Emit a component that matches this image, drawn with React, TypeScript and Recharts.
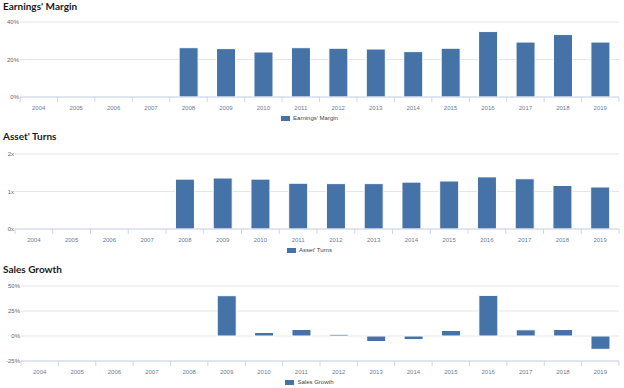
import { BarChart, Bar, XAxis, YAxis, CartesianGrid, Legend } from 'recharts';

const years = [
  '2004', '2005', '2006', '2007', '2008', '2009', '2010', '2011',
  '2012', '2013', '2014', '2015', '2016', '2017', '2018', '2019',
];
const earningsMargin = [null, null, null, null, 26.3, 25.8, 24.0, 26.3, 26.0, 25.6, 24.2, 26.0, 34.9, 29.3, 33.3, 29.3];
const assetTurns = [null, null, null, null, 1.33, 1.36, 1.33, 1.22, 1.21, 1.21, 1.25, 1.28, 1.39, 1.34, 1.16, 1.12];
const salesGrowth = [null, null, null, null, null, 40.3, 3.5, 6.5, 1.7, -5.5, -3.6, 5.5, 40.6, 6.2, 6.5, -13.3];

const marginTicks = [0, 20, 40];
const turnsTicks = [0, 1, 2];
const growthTicks = [-25, 0, 25, 50];

const W = 624;
const RIGHT = 5;
const BAR = '#4572a7';
const SMALL_FONT = '"Liberation Sans", Arial, sans-serif';

function YearTick({ x, y, payload, index, band, count }: any) {
  const left = x - band / 2;
  return (
    <g>
      <line x1={left} x2={left} y1={y} y2={y + 5} stroke="#ccd6eb" />
      {index === count - 1 && <line x1={x + band / 2} x2={x + band / 2} y1={y} y2={y + 5} stroke="#ccd6eb" />}
      <text x={x} y={y + 10.5} textAnchor="middle" dominantBaseline="central" fontSize={6} fill="#6b7d99" fontFamily={SMALL_FONT}>
        {payload.value}
      </text>
    </g>
  );
}

interface PanelProps {
  title: string;
  titleTop: number;
  top: number;
  yWidth: number;
  values: (number | null)[];
  name: string;
  domain: [number, number];
  ticks: number[];
  unit: string;
}

function Panel({ title, titleTop, top, yWidth, values, name, domain, ticks, unit }: PanelProps) {
  const data = years.map((year, i) => ({ year, value: values[i] }));
  const band = (W - yWidth - RIGHT) / years.length;
  return (
    <>
      <div
        style={{
          position: 'absolute',
          left: 3,
          top: titleTop,
          font: 'bold 10px Lato, "Open Sans", sans-serif',
          lineHeight: '12px',
          color: '#1a1a1a',
          whiteSpace: 'nowrap',
        }}
      >
        {title}
      </div>
      <div style={{ position: 'absolute', left: 0, top }}>
        <BarChart
          width={W}
          height={124}
          data={data}
          margin={{ top: 22, right: RIGHT, bottom: 0, left: 0 }}
          barCategoryGap="25%"
        >
          <CartesianGrid vertical={false} stroke="#e6e6e6" />
          <XAxis
            dataKey="year"
            height={15}
            tickSize={0}
            tickMargin={0}
            interval={0}
            tickLine={false}
            axisLine={{ stroke: '#ccd6eb' }}
            tick={(props: any) => <YearTick {...props} band={band} count={years.length} />}
          />
          <YAxis
            width={yWidth}
            domain={domain}
            ticks={ticks}
            interval={0}
            tickSize={0}
            tickMargin={1}
            axisLine={false}
            tickLine={false}
            tick={{ fontSize: 6, fill: '#666666', fontFamily: SMALL_FONT }}
            tickFormatter={(v: number) => `${v}${unit}`}
          />
          <Legend
            height={12}
            content={() => (
              <div
                style={{
                  display: 'flex',
                  justifyContent: 'center',
                  alignItems: 'center',
                  height: 12,
                  gap: 3,
                  font: `6px ${SMALL_FONT}`,
                  color: '#444',
                }}
              >
                <span style={{ display: 'inline-block', width: 9, height: 5, background: BAR }} />
                <span>{name}</span>
              </div>
            )}
          />
          <Bar dataKey="value" name={name} fill={BAR} stroke="#ffffff" strokeWidth={1} isAnimationActive={false} />
        </BarChart>
      </div>
    </>
  );
}

export default function App() {
  return (
    <div style={{ position: 'absolute', left: 0, top: 0, width: W, height: 388, background: '#fff', overflow: 'hidden' }}>
      <Panel
        title="Earnings' Margin"
        titleTop={0}
        top={0}
        yWidth={20}
        values={earningsMargin}
        name="Earnings' Margin"
        domain={[0, 40]}
        ticks={marginTicks}
        unit="%"
      />
      <Panel
        title="Asset' Turns"
        titleTop={130}
        top={132}
        yWidth={15}
        values={assetTurns}
        name="Asset' Turns"
        domain={[0, 2]}
        ticks={turnsTicks}
        unit="x"
      />
      <Panel
        title="Sales Growth"
        titleTop={263}
        top={264}
        yWidth={21}
        values={salesGrowth}
        name="Sales Growth"
        domain={[-25, 50]}
        ticks={growthTicks}
        unit="%"
      />
    </div>
  );
}
